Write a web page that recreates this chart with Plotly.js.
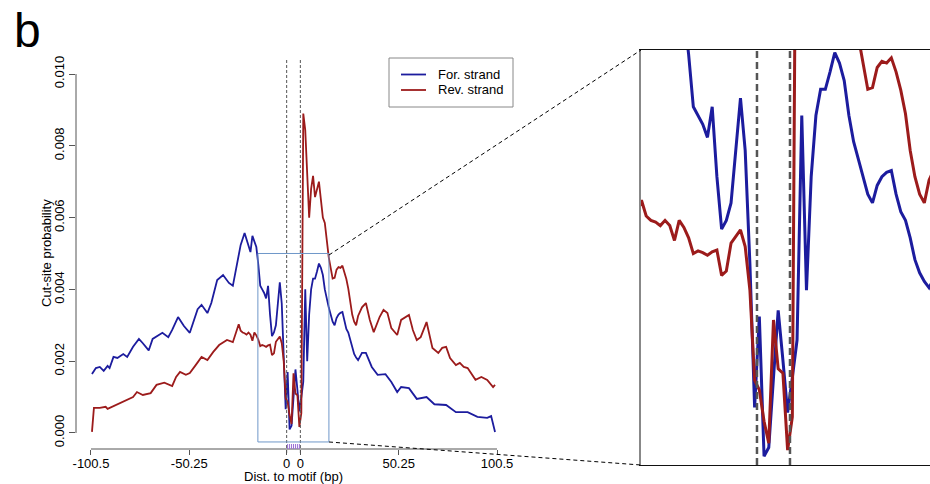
<!DOCTYPE html>
<html>
<head>
<meta charset="utf-8">
<script src="https://cdn.plot.ly/plotly-3.0.1.min.js"></script>
<style>html,body{margin:0;padding:0;background:#fff}#chart{width:930px;height:484px}</style>
</head>
<body>
<div id="chart"></div>
<script>
// ---- data (positions relative to motif start; motif occupies 0..6) ----
const seriesNames = ["For. strand", "Rev. strand"];
const motifLength = 7;
const forX = [-100,-98,-96,-94,-92,-91,-89,-87,-84,-82,-79,-76,-74,-71,-69,-66,-64,-61,-59,-56,-53,-50,-46,-44,-41,-39,-36,-33,-30,-28,-26,-24,-22,-20,-19,-18,-16,-15,-14,-13,-12,-11,-10,-9,-8,-7,-6,-5,-4,-3,-2,-1,0,1,2,3,4,5,6,7,8,9,10,11,12,13,14,15,16,17,18,19,20,21,22,23,24,25,26,27,28,29,30,31,32,33,34,35,36,38,40,43,46,50,53,56,58,62,66,71,75,81,86,92,97,102,104,106];
const forY = [0.00164,0.00181,0.00184,0.00173,0.00187,0.00181,0.00212,0.00209,0.00220,0.00212,0.00240,0.00262,0.00250,0.00230,0.00262,0.00273,0.00279,0.00267,0.00287,0.00323,0.00298,0.00279,0.00345,0.00357,0.00334,0.00362,0.00426,0.00440,0.00418,0.00410,0.00473,0.00524,0.00557,0.00518,0.00504,0.00549,0.00518,0.00470,0.00410,0.00400,0.00390,0.00375,0.00410,0.00330,0.00270,0.00280,0.00300,0.00360,0.00420,0.00360,0.00230,0.00066,0.00170,0.00010,0.00020,0.00100,0.00177,0.00120,0.00060,0.00100,0.00143,0.00400,0.00200,0.00330,0.00400,0.00430,0.00430,0.00450,0.00472,0.00460,0.00440,0.00400,0.00370,0.00350,0.00330,0.00310,0.00300,0.00320,0.00330,0.00335,0.00337,0.00310,0.00290,0.00280,0.00260,0.00235,0.00220,0.00210,0.00203,0.00223,0.00223,0.00184,0.00162,0.00164,0.00142,0.00114,0.00128,0.00125,0.00095,0.00100,0.00080,0.00078,0.00058,0.00058,0.00045,0.00042,0.00047,0.00003];
const revX = [-100,-99,-96,-93,-92,-89,-85,-82,-79,-77,-74,-70,-67,-63,-59,-57,-55,-52,-50,-47,-44,-41,-38,-35,-31,-28,-25,-24,-23,-22,-21,-20,-19,-18,-17,-16,-15,-14,-13,-12,-11,-10,-9,-8,-7,-6,-5,-4,-3,-2,-1,0,1,2,3,4,5,6,7,8,9,10,11,12,13,14,15,16,17,18,19,20,21,22,23,24,25,26,27,28,29,30,31,32,33,34,35,36,38,40,42,44,47,49,51,53,56,58,62,64,66,68,71,74,77,79,81,83,86,88,90,92,96,99,102,105,106];
const revY = [0.00003,0.00070,0.00070,0.00073,0.00067,0.00075,0.00086,0.00092,0.00100,0.00114,0.00106,0.00111,0.00134,0.00140,0.00131,0.00156,0.00170,0.00162,0.00167,0.00189,0.00212,0.00203,0.00226,0.00245,0.00259,0.00253,0.00303,0.00285,0.00280,0.00278,0.00274,0.00280,0.00274,0.00257,0.00280,0.00272,0.00260,0.00242,0.00245,0.00243,0.00240,0.00244,0.00246,0.00217,0.00222,0.00254,0.00262,0.00269,0.00250,0.00200,0.00097,0.00086,0.00050,0.00025,0.00166,0.00110,0.00105,0.00017,0.00055,0.00890,0.00844,0.00720,0.00600,0.00680,0.00716,0.00657,0.00680,0.00700,0.00650,0.00600,0.00585,0.00530,0.00490,0.00460,0.00430,0.00432,0.00455,0.00462,0.00460,0.00466,0.00450,0.00429,0.00402,0.00360,0.00330,0.00310,0.00300,0.00326,0.00350,0.00362,0.00315,0.00281,0.00323,0.00343,0.00334,0.00292,0.00273,0.00315,0.00329,0.00287,0.00259,0.00267,0.00309,0.00237,0.00223,0.00237,0.00240,0.00209,0.00189,0.00195,0.00184,0.00181,0.00148,0.00156,0.00148,0.00128,0.00134];
const xTickVals = [-100.5, -50.25, -0.5, 6.5, 56.75, 107];
const xTickText = ["-100.5", "-50.25", "0", "0", "50.25", "100.5"];
const yTickVals = [0, 0.002, 0.004, 0.006, 0.008, 0.010];
const yTickText = ["0.000", "0.002", "0.004", "0.006", "0.008", "0.010"];

// ---- styling / layout ----
const W = 930, H = 484;
const px = v => v / W, py = v => 1 - v / H;
const blue = "#1c1c9e", red = "#9c1b1b";
const FONT = "Liberation Sans, Arial, Helvetica, sans-serif";

const traces = [
  {x: forX, y: forY, name: seriesNames[0], type: "scatter", mode: "lines", line: {color: blue, width: 1.8}, xaxis: "x", yaxis: "y"},
  {x: revX, y: revY, name: seriesNames[1], type: "scatter", mode: "lines", line: {color: red, width: 1.8}, xaxis: "x", yaxis: "y"},
  {x: forX, y: forY, name: seriesNames[0], type: "scatter", mode: "lines", line: {color: blue, width: 3}, xaxis: "x2", yaxis: "y2", showlegend: false},
  {x: revX, y: revY, name: seriesNames[1], type: "scatter", mode: "lines", line: {color: red, width: 3}, xaxis: "x2", yaxis: "y2", showlegend: false}
];

const motifL = -0.5, motifR = motifLength - 0.5;
const shapes = [];
// axis lines (R style, spanning only the tick range)
shapes.push({type: "line", xref: "x", yref: "paper", x0: -100.5, x1: 107, y0: py(449), y1: py(449), line: {color: "#555", width: 1}});
shapes.push({type: "line", xref: "paper", yref: "y", x0: px(76), x1: px(76), y0: 0, y1: 0.010, line: {color: "#555", width: 1}});
// motif boundary dashed lines (main)
[motifL, motifR].forEach(v => shapes.push({type: "line", xref: "x", yref: "paper", x0: v, x1: v, y0: py(453), y1: py(60), line: {color: "#555", width: 1, dash: "3px,2px"}}));
// motif rug
for (let i = 0; i < motifLength; i++) {
  shapes.push({type: "line", xref: "x", yref: "paper", x0: i, x1: i, y0: py(449), y1: py(444), line: {color: "#9b6fd6", width: 1}});
}
// zoom box
shapes.push({type: "rect", xref: "x", yref: "y", x0: -15.2, x1: 21.1, y0: -0.00025, y1: 0.005, line: {color: "#6f97c9", width: 1}});
// connector lines
shapes.push({type: "line", xref: "paper", yref: "paper", x0: px(329), y0: py(255), x1: px(641), y1: py(50), line: {color: "#000", width: 1, dash: "4px,3px"}});
shapes.push({type: "line", xref: "paper", yref: "paper", x0: px(329), y0: py(442), x1: px(641), y1: py(465), line: {color: "#000", width: 1, dash: "4px,3px"}});
// inset motif dashed lines
[motifL, motifR].forEach(v => shapes.push({type: "line", xref: "x2", yref: "y2 domain", x0: v, x1: v, y0: 0, y1: 1, line: {color: "#555", width: 2.5, dash: "7px,4px"}}));
// legend frame and keys (R-style legend)
shapes.push({type: "rect", xref: "paper", yref: "paper", x0: px(389), x1: px(513), y0: py(107), y1: py(58), line: {color: "#888", width: 1}, fillcolor: "#fff", layer: "below"});
shapes.push({type: "line", xref: "paper", yref: "paper", x0: px(401), x1: px(426), y0: py(74.5), y1: py(74.5), line: {color: blue, width: 1.8}});
shapes.push({type: "line", xref: "paper", yref: "paper", x0: px(401), x1: px(426), y0: py(90), y1: py(90), line: {color: red, width: 1.8}});

const layout = {
  width: W, height: H,
  margin: {l: 0, r: 0, t: 0, b: 0},
  paper_bgcolor: "#fff", plot_bgcolor: "rgba(0,0,0,0)",
  font: {family: FONT, size: 13, color: "#000"},
  showlegend: false,
  xaxis: {domain: [px(76), px(497)], range: [-108.16, 107], tickmode: "array", tickvals: xTickVals, ticktext: xTickText,
          ticks: "outside", ticklen: 5, tickcolor: "#555", ticklabelstandoff: -3, showline: false, showgrid: false, zeroline: false, tickfont: {size: 13}, fixedrange: true},
  yaxis: {domain: [py(449), py(74)], range: [-0.000446, 0.010], tickmode: "array", tickvals: yTickVals, ticktext: yTickText, tickangle: -90,
          ticks: "outside", ticklen: 6, tickcolor: "#555", showline: false, showgrid: false, zeroline: false, tickfont: {size: 13}, fixedrange: true},
  xaxis2: {domain: [px(641), 1], range: [-25.1, 36.2], anchor: "y2", showticklabels: false, ticks: "", showgrid: false, zeroline: false,
           showline: true, mirror: true, linecolor: "#111", linewidth: 1},
  yaxis2: {domain: [py(465), py(50)], range: [0, 0.00475], anchor: "x2", showticklabels: false, ticks: "", showgrid: false, zeroline: false,
           showline: true, linecolor: "#888", linewidth: 2},
  shapes: shapes,
  annotations: [
    {text: "b", xref: "paper", yref: "paper", x: px(12), y: py(2), xanchor: "left", yanchor: "top", showarrow: false, font: {family: FONT, size: 48, color: "#000"}},
    {text: "Dist. to motif (bp)", xref: "x", yref: "paper", x: 3.25, y: py(476), xanchor: "center", yanchor: "middle", showarrow: false, font: {family: FONT, size: 13}},
    {text: "Cut-site probability", xref: "paper", yref: "paper", x: px(46), y: py(253), xanchor: "center", yanchor: "middle", textangle: -90, showarrow: false, font: {family: FONT, size: 13}},
    {text: seriesNames[0], xref: "paper", yref: "paper", x: px(436), y: py(74.5), xanchor: "left", yanchor: "middle", showarrow: false, font: {family: FONT, size: 13}},
    {text: seriesNames[1], xref: "paper", yref: "paper", x: px(436), y: py(90), xanchor: "left", yanchor: "middle", showarrow: false, font: {family: FONT, size: 13}}
  ]
};

Plotly.newPlot("chart", traces, layout, {displayModeBar: false, staticPlot: true});
</script>
</body>
</html>
